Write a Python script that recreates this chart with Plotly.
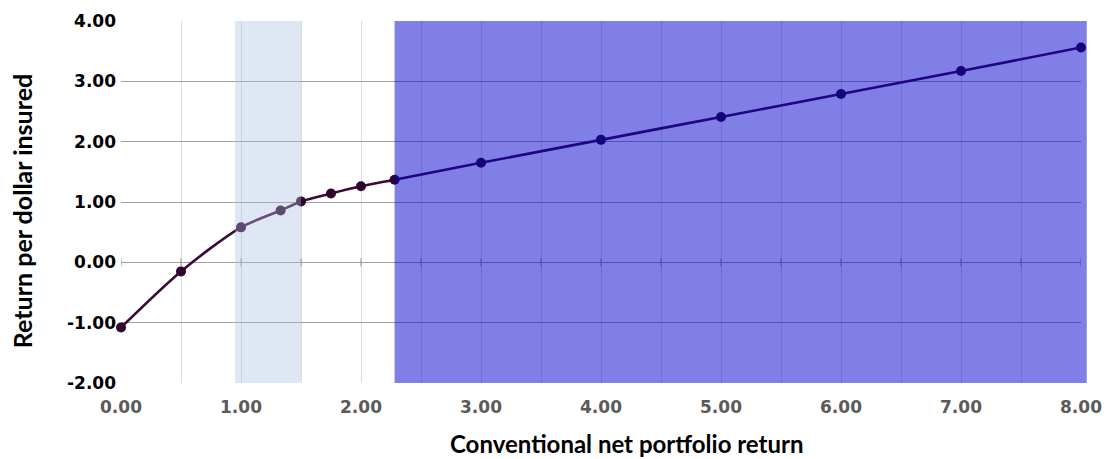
import plotly.graph_objects as go

# Data
conv_return = [0.0, 0.5, 1.0, 1.33, 1.5, 1.75, 2.0, 2.28, 3.0, 4.0, 5.0, 6.0, 7.0, 8.0]
return_per_dollar = [-1.08, -0.15, 0.58, 0.86, 1.01, 1.14, 1.26, 1.37, 1.65, 2.03, 2.41, 2.79, 3.17, 3.56]
light_band = [0.95, 1.5]
blue_band_start = 2.28
x_ticks = [0, 1, 2, 3, 4, 5, 6, 7, 8]
y_ticks = [-2, -1, 0, 1, 2, 3, 4]
minor_ticks = [i * 0.5 for i in range(17)]
x_title = "Conventional net portfolio return"
y_title = "Return per dollar insured"

x_ticktext = [f"{v:.2f}" for v in x_ticks]
y_ticktext = [f"{v:.2f}" for v in y_ticks]

fig = go.Figure()
fig.add_trace(go.Scatter(
    x=conv_return, y=return_per_dollar,
    mode="lines+markers",
    line=dict(color="#3c0a38", width=2.6, shape="spline", smoothing=0.8),
    marker=dict(color="#2d052d", size=10),
    cliponaxis=False,
    showlegend=False,
))

# shaded regions (drawn above the line, semi-transparent)
fig.add_shape(type="rect", xref="x", yref="y", x0=light_band[0], x1=light_band[1],
              y0=-2, y1=4, fillcolor="rgba(170,190,225,0.38)", line_width=0, layer="above")
fig.add_shape(type="rect", xref="x", yref="y", x0=blue_band_start, x1=8,
              y0=-2, y1=4, fillcolor="rgba(0,0,204,0.5)", line_width=0, layer="above")
fig.add_shape(type="rect", xref="paper", yref="y", x0=1.0, x1=1.006,
              y0=-2, y1=4, fillcolor="rgba(0,0,204,0.5)", line_width=0, layer="above")

# tick marks on the zero line
for t in minor_ticks:
    fig.add_shape(type="line", xref="x", yref="y", x0=t, x1=t,
                  ysizemode="pixel", yanchor=0, y0=-4, y1=4,
                  line=dict(color="#909090", width=1), layer="between")

# axis titles
fig.add_annotation(text=x_title, xref="paper", yref="paper", x=0.527, y=-0.168,
                   xanchor="center", yanchor="middle", showarrow=False,
                   font=dict(family="Lato", size=24, color="black", weight="bold"))
fig.add_annotation(text=y_title, xref="paper", yref="paper", x=-0.103, y=0.475,
                   xanchor="center", yanchor="middle", showarrow=False, textangle=-90,
                   font=dict(family="Lato", size=25, color="black", weight="bold"))

fig.update_layout(
    width=1104, height=459,
    margin=dict(l=121, r=23, t=21, b=76, autoexpand=False),
    plot_bgcolor="white", paper_bgcolor="white",
    font=dict(family="DejaVu Sans", size=16),
    xaxis=dict(
        range=[0, 8], tickvals=x_ticks, ticktext=x_ticktext, automargin=False,
        showgrid=True, gridcolor="#dcdcdc", gridwidth=1,
        minor=dict(tickvals=minor_ticks, showgrid=True, gridcolor="#dcdcdc", gridwidth=1),
        zeroline=False, showline=False, ticks="",
        tickfont=dict(family="DejaVu Sans", size=17, color="#5a5a5a", weight="bold"),
        ticklabelstandoff=12,
    ),
    yaxis=dict(
        range=[-2, 4], tickvals=y_ticks, ticktext=y_ticktext, automargin=False,
        showgrid=True, gridcolor="#a0a0a0", gridwidth=1,
        zeroline=False, showline=False, ticks="",
        tickfont=dict(family="DejaVu Sans", size=17, color="black", weight="bold"),
        ticklabelstandoff=4,
    ),
)

fig.write_html("out.html", config={"displayModeBar": False},
               post_script="document.body.style.margin='0';")
